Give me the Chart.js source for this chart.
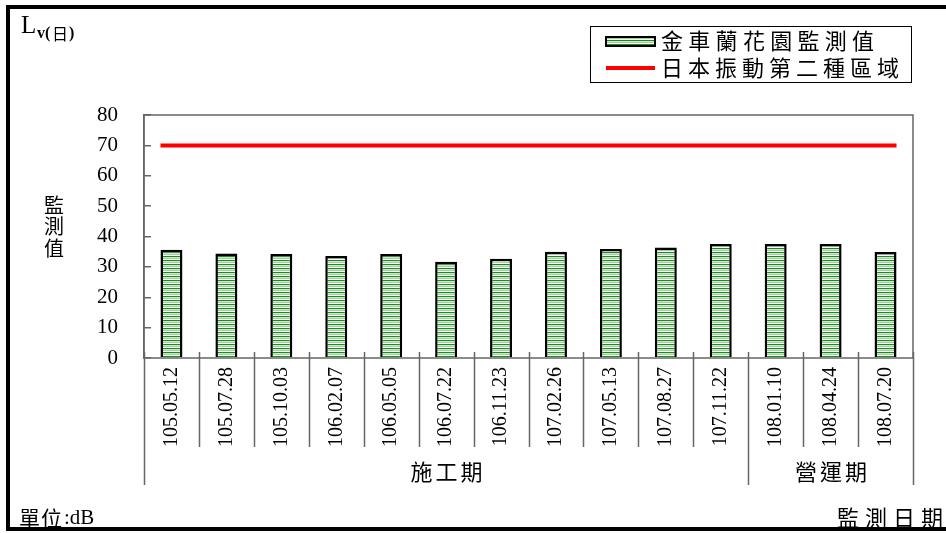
<!DOCTYPE html>
<html>
<head>
<meta charset="utf-8">
<style>
  html, body { margin: 0; padding: 0; background: #fff; }
  #wrap { width: 946px; height: 533px; position: relative; }
</style>
<script src="https://cdn.jsdelivr.net/npm/chart.js@4.4.1/dist/chart.umd.min.js"></script>
</head>
<body>
<div id="wrap"><canvas id="myChart" width="946" height="533"></canvas></div>
<script>
// dates of each monitoring round
const dates = ["105.05.12", "105.07.28", "105.10.03", "106.02.07", "106.05.05", "106.07.22", "106.11.23",
  "107.02.26", "107.05.13", "107.08.27", "107.11.22", "108.01.10", "108.04.24", "108.07.20"];
// 金車蘭花園 measured values (dB)
const measured = [35.6, 34.4, 34.2, 33.6, 34.2, 31.7, 32.7, 35.0, 35.9, 36.4, 37.5, 37.5, 37.5, 34.9];
// Japan class-2 zone standard
const standard = [70, 70, 70, 70, 70, 70, 70, 70, 70, 70, 70, 70, 70, 70];
// period groups: name + number of rounds in it
const groupNames = ["施工期", "營運期"];
const groupSizes = [11, 3];

const seriesNames = ["金車蘭花園監測值", "日本振動第二種區域"];

const cjk = '"Noto Sans CJK TC", "Noto Sans CJK JP", sans-serif';
const serif = '"Liberation Serif", "DejaVu Serif", serif';

// green striped fill for the bars
const makeStripes = () => {
  const c = document.createElement("canvas");
  c.width = 4; c.height = 4;
  const g = c.getContext("2d");
  g.fillStyle = "#ffffff"; g.fillRect(0, 0, 4, 4);
  g.fillStyle = "#1f8a1f"; g.fillRect(0, 0, 4, 1);
  g.fillStyle = "#c8e8c8"; g.fillRect(0, 1, 4, 1);
  g.fillStyle = "#9fd49f"; g.fillRect(0, 2, 4, 1);
  return g.createPattern(c, "repeat");
};
const stripes = makeStripes();

const barPct = 0.4;
const half = barPct / 2;
const n = dates.length;
// line points sit on a hidden linear axis so the line runs from first bar edge to last bar edge
const linePoints = standard.map((v, i) => ({ x: i, y: v }));

const drawText = (ctx, text, x, y, font, align, spacing) => {
  ctx.save();
  ctx.font = font;
  ctx.fillStyle = "#000";
  ctx.textAlign = align || "left";
  ctx.textBaseline = "middle";
  if (spacing) ctx.letterSpacing = spacing + "px";
  ctx.fillText(text, x, y);
  ctx.restore();
};

const decorations = {
  id: "decorations",
  beforeDraw(chart) {
    const ctx = chart.ctx;
    ctx.save();
    ctx.fillStyle = "#fff";
    ctx.fillRect(0, 0, chart.width, chart.height);
    ctx.restore();
  },
  afterDraw(chart) {
    const ctx = chart.ctx;
    const a = chart.chartArea;
    const xs = chart.scales.x;

    ctx.save();
    // plot frame
    ctx.strokeStyle = "#666";
    ctx.lineWidth = 1.5;
    ctx.strokeRect(a.left, a.top, a.right - a.left, a.bottom - a.top);

    // category separators + group separators below the axis
    const groupEdges = [0];
    groupSizes.forEach((s, i) => groupEdges.push(groupEdges[i] + s));
    for (let k = 0; k <= n; k++) {
      const x = Math.round(xs.getPixelForValue(k - 0.5)) + 0.5;
      const long = groupEdges.includes(k);
      ctx.beginPath();
      ctx.moveTo(x, a.bottom - 6);
      ctx.lineTo(x, long ? a.bottom + 127 : a.bottom + 89);
      ctx.stroke();
    }
    ctx.restore();

    // group labels
    groupNames.forEach((name, i) => {
      const x0 = xs.getPixelForValue(groupEdges[i] - 0.5);
      const x1 = xs.getPixelForValue(groupEdges[i + 1] - 0.5);
      drawText(ctx, name, (x0 + x1) / 2 + 2, a.bottom + 114, "22px " + cjk, "center", 3);
    });

    // y axis title, vertical
    ["監", "測", "值"].forEach((ch, i) => {
      drawText(ctx, ch, 54, 205 + i * 21.5, "20px " + cjk, "center");
    });

    // top-left unit symbol
    drawText(ctx, "L", 21, 26, "25px " + serif, "left");
    drawText(ctx, "v(", 37, 34, "bold 16px " + serif, "left");
    drawText(ctx, "日", 52, 34, "16px " + cjk, "left");
    drawText(ctx, ")", 69, 34, "bold 16px " + serif, "left");

    // bottom texts
    drawText(ctx, "單位", 19, 518, "21px " + cjk, "left", 1);
    drawText(ctx, ":dB", 64, 518, "21px " + serif, "left");
    drawText(ctx, "監測日期", 837, 518, "22px " + cjk, "left", 6);

    // legend
    ctx.save();
    ctx.strokeStyle = "#000";
    ctx.lineWidth = 1;
    ctx.strokeRect(590.5, 26.5, 321, 56);
    const ds = chart.data.datasets;
    ctx.fillStyle = ds[0].backgroundColor;
    ctx.fillRect(606, 37, 49, 9);
    ctx.lineWidth = 2;
    ctx.strokeStyle = ds[0].borderColor;
    ctx.strokeRect(606, 37, 49, 9);
    ctx.strokeStyle = ds[1].borderColor;
    ctx.lineWidth = 4;
    ctx.beginPath();
    ctx.moveTo(606, 68);
    ctx.lineTo(655, 68);
    ctx.stroke();
    ctx.restore();
    drawText(ctx, ds[0].label, 661, 41, "22px " + cjk, "left", 5.3);
    drawText(ctx, ds[1].label, 661, 68, "22px " + cjk, "left", 5);

    // outer black frame (right side runs off the picture)
    ctx.save();
    ctx.strokeStyle = "#000";
    ctx.lineWidth = 4;
    ctx.beginPath();
    ctx.moveTo(960, 7);
    ctx.lineTo(8, 7);
    ctx.lineTo(8, 529);
    ctx.lineTo(960, 529);
    ctx.stroke();
    ctx.restore();
  }
};

const data = {
  labels: dates,
  datasets: [{
    type: "bar",
    label: seriesNames[0],
    data: measured,
    backgroundColor: stripes,
    borderColor: "#000",
    borderWidth: 2.5,
    barPercentage: barPct,
    categoryPercentage: 1,
    grouped: false,
    xAxisID: "x",
    order: 2
  }, {
    type: "line",
    label: seriesNames[1],
    data: linePoints,
    borderColor: "#ff0000",
    borderWidth: 4,
    pointRadius: 0,
    fill: false,
    xAxisID: "x2",
    order: 1
  }]
};

const config = {
  type: "bar",
  data,
  options: {
    responsive: false,
    animation: false,
    layout: { padding: { left: 0, right: 33, top: 115, bottom: 0 } },
    plugins: { legend: { display: false }, tooltip: { enabled: false } },
    scales: {
      x: {
        type: "category",
        grid: { display: false, drawTicks: false },
        border: { display: false },
        ticks: {
          color: "#000",
          font: { family: serif, size: 20 },
          minRotation: 90,
          maxRotation: 90,
          autoSkip: false,
          padding: 9
        },
        afterFit: (s) => { s.height = 175; }
      },
      x2: {
        type: "linear",
        display: false,
        offset: false,
        grid: { offset: false },
        min: (half - 0.5) * (n - 1) / (n - 1 + 2 * half),
        max: (n - 0.5 + half) * (n - 1) / (n - 1 + 2 * half)
      },
      y: {
        min: 0,
        max: 80,
        ticks: {
          stepSize: 10,
          color: "#000",
          font: { family: serif, size: 21 },
          padding: 33
        },
        grid: { drawOnChartArea: false, drawTicks: true, tickLength: -7, color: "#666", lineWidth: 1.5 },
        border: { display: true, color: "#666", width: 1.5 },
        afterFit: (s) => { s.width = 144; }
      }
    }
  },
  plugins: [decorations]
};

var myChart = new Chart(document.getElementById("myChart"), config);
</script>
</body>
</html>
